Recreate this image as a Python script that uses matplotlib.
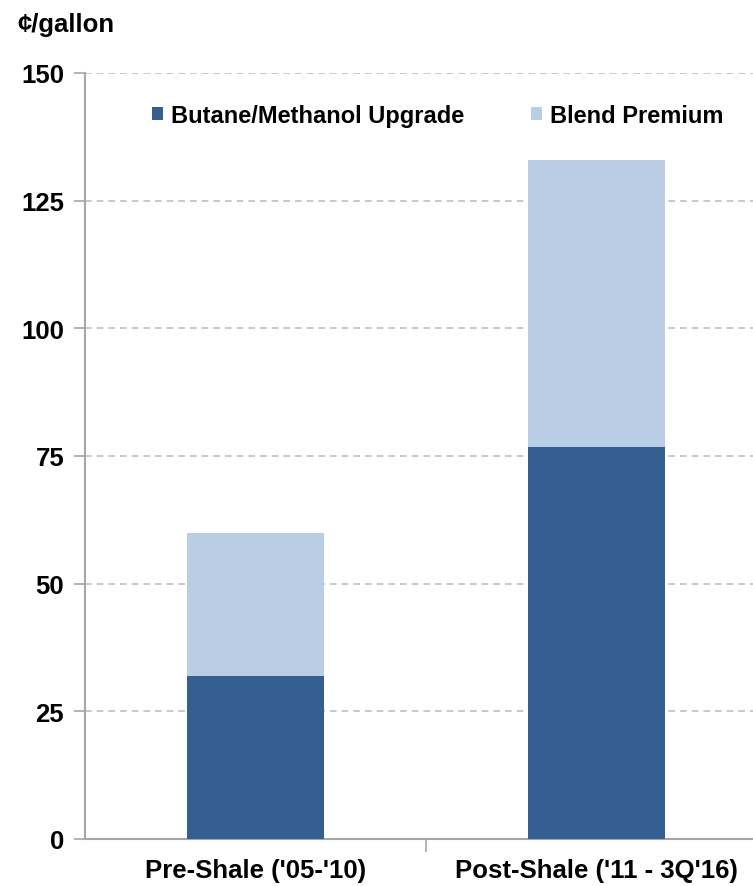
import numpy as np
import matplotlib.pyplot as plt

plt.rcParams['font.family'] = ['Liberation Sans', 'DejaVu Sans']
plt.rcParams['font.weight'] = 'bold'

categories = ["Pre-Shale ('05-'10)", "Post-Shale ('11 - 3Q'16)"]
butane_upgrade = [32, 76.7]
blend_premium = [28, 56.3]
yticks = [0, 25, 50, 75, 100, 125, 150]

dark = '#355F91'
light = '#B9CDE5'
axis_grey = '#A6A6A6'

fig = plt.figure(figsize=(7.53, 8.87), dpi=100)
ax = fig.add_axes([85 / 753, 47 / 887, 682 / 753, 766 / 887])

x = np.arange(len(categories))
ax.bar(x, butane_upgrade, 0.4, color=dark, label='Butane/Methanol Upgrade', zorder=3)
ax.bar(x, blend_premium, 0.4, bottom=butane_upgrade, color=light,
       label='Blend Premium', zorder=3)

ax.set_xlim(-0.5, 1.5)
ax.set_ylim(0, 150)
ax.set_yticks(yticks)
ax.set_yticklabels([str(v) for v in yticks], fontsize=18.5, fontweight='bold')
ax.set_xticks(x)
ax.set_xticklabels(categories, fontsize=18.5, fontweight='bold')
ax.tick_params(axis='x', which='major', length=0, pad=14)
ax.set_xticks([0.5], minor=True)
ax.tick_params(axis='x', which='minor', length=9, width=1.2, color=axis_grey, direction='out')
ax.tick_params(axis='y', length=8, width=1.2, color=axis_grey, pad=7)

ax.grid(axis='y', color='#B8C0CC', linestyle=(0, (4, 3)), linewidth=1.2, zorder=0)
for s in ['top', 'right']:
    ax.spines[s].set_visible(False)
for s in ['left', 'bottom']:
    ax.spines[s].set_color(axis_grey)
    ax.spines[s].set_linewidth(1.5)

fig.text(17 / 753, 1 - 25 / 887, '¢/gallon', fontsize=18.5, fontweight='bold', va='center')

ax.legend(loc='center left', bbox_to_anchor=(0.098, 0.945), ncol=2, frameon=False,
          fontsize=17, borderpad=0, borderaxespad=0, handlelength=0.47,
          handleheight=0.47, handletextpad=0.34, columnspacing=2.84)

fig.savefig('out.png', dpi=100)
